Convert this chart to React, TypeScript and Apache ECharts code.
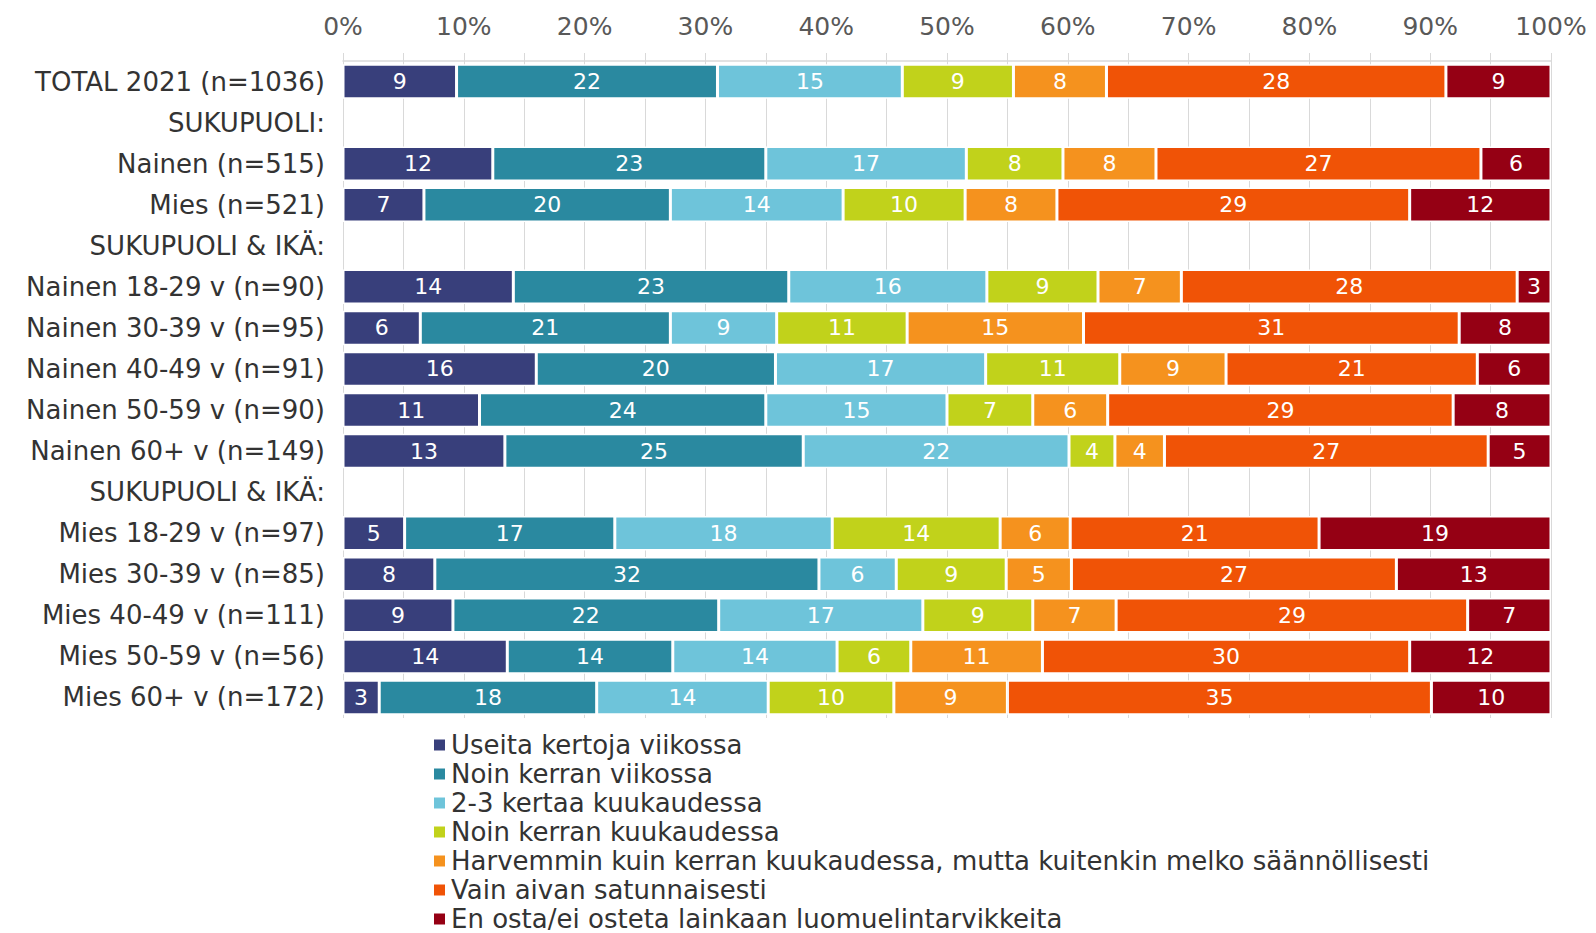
import React, { useEffect, useRef } from "react";
import * as echarts from "echarts";

const categories = [
  "TOTAL 2021 (n=1036)",
  "SUKUPUOLI:",
  "Nainen (n=515)",
  "Mies (n=521)",
  "SUKUPUOLI & IKÄ:",
  "Nainen 18-29 v (n=90)",
  "Nainen 30-39 v (n=95)",
  "Nainen 40-49 v (n=91)",
  "Nainen 50-59 v (n=90)",
  "Nainen 60+ v (n=149)",
  "SUKUPUOLI & IKÄ:",
  "Mies 18-29 v (n=97)",
  "Mies 30-39 v (n=85)",
  "Mies 40-49 v (n=111)",
  "Mies 50-59 v (n=56)",
  "Mies 60+ v (n=172)",
];

const seriesNames = [
  "Useita kertoja viikossa",
  "Noin kerran viikossa",
  "2-3 kertaa kuukaudessa",
  "Noin kerran kuukaudessa",
  "Harvemmin kuin kerran kuukaudessa, mutta kuitenkin melko säännöllisesti",
  "Vain aivan satunnaisesti",
  "En osta/ei osteta lainkaan luomuelintarvikkeita",
];

const colors = ["#383F7B", "#2A89A0", "#6EC4DA", "#C1D21B", "#F5921E", "#F05306", "#950014"];

const useita = [9.4, null, 12.4, 6.7, null, 14.1, 6.4, 16.0, 11.3, 13.4, null, 5.1, 7.6, 9.1, 13.6, 3.0];
const noinViikossa = [21.6, null, 22.6, 20.4, null, 22.8, 20.7, 19.8, 23.7, 24.7, null, 17.4, 31.8, 22.0, 13.7, 18.0];
const kertaa23 = [15.3, null, 16.6, 14.3, null, 16.4, 8.8, 17.4, 15.0, 22.0, null, 18.0, 6.4, 16.9, 13.6, 14.2];
const noinKuukaudessa = [9.2, null, 8.0, 10.1, null, 9.2, 10.8, 11.1, 7.1, 3.8, null, 13.9, 9.1, 9.1, 6.1, 10.4];
const harvemmin = [7.7, null, 7.7, 7.6, null, 6.9, 14.6, 8.8, 6.2, 4.1, null, 5.8, 5.4, 6.9, 10.9, 9.4];
const satunnaisesti = [28.1, null, 26.9, 29.2, null, 27.8, 31.1, 20.8, 28.6, 26.8, null, 20.6, 26.9, 29.1, 30.4, 35.1];
const enOsta = [8.7, null, 5.8, 11.7, null, 2.8, 7.6, 6.1, 8.1, 5.2, null, 19.2, 12.8, 6.9, 11.7, 9.9];

const seriesValues = [useita, noinViikossa, kertaa23, noinKuukaudessa, harvemmin, satunnaisesti, enOsta];

const FONT = "DejaVu Sans";

export default function App() {
  const ref = useRef<HTMLDivElement>(null);

  useEffect(() => {
    if (!ref.current) return;
    const chart = echarts.init(ref.current, null, { renderer: "svg" });
    const gridColor = "#D9D9D9";
    chart.setOption({
      animation: false,
      textStyle: { fontFamily: FONT },
      grid: { left: 343, right: 45, top: 61, height: 657, containLabel: false },
      xAxis: {
        type: "value",
        position: "top",
        min: 0,
        max: 100,
        interval: 10,
        axisLine: { show: true, lineStyle: { color: gridColor, width: 1.5 } },
        axisTick: { show: true, length: 8, lineStyle: { color: gridColor } },
        minorTick: { show: true, splitNumber: 2, length: 8, lineStyle: { color: gridColor } },
        splitLine: { show: true, lineStyle: { color: gridColor } },
        minorSplitLine: { show: true, lineStyle: { color: gridColor } },
        axisLabel: {
          formatter: "{value}%",
          color: "#595959",
          fontSize: 25,
          fontFamily: FONT,
          margin: 22,
        },
      },
      yAxis: {
        type: "category",
        inverse: true,
        data: categories,
        axisLine: { show: false },
        axisTick: { show: false },
        axisLabel: { color: "#333333", fontSize: 26, fontFamily: FONT, margin: 18 },
      },
      legend: {
        orient: "vertical",
        left: 432,
        top: 732,
        height: 205,
        padding: 0,
        itemWidth: 13,
        itemHeight: 13,
        itemGap: 3,
        icon: "rect",
        textStyle: { color: "#333333", fontSize: 26, lineHeight: 26, fontFamily: FONT },
        data: seriesNames,
      },
      series: seriesNames.map((name, i) => ({
        name,
        type: "bar",
        stack: "total",
        barWidth: "84%",
        data: seriesValues[i],
        itemStyle: { color: colors[i], borderColor: "#ffffff", borderWidth: 1.5 },
        label: {
          show: true,
          position: "inside",
          color: "#ffffff",
          fontSize: 22,
          fontFamily: FONT,
          formatter: (p: any) => (p.value == null ? "" : String(Math.round(p.value))),
        },
      })),
    });
    return () => chart.dispose();
  }, []);

  return (
    <div
      ref={ref}
      style={{ position: "fixed", left: 0, top: 0, width: 1596, height: 933, background: "#fff" }}
    />
  );
}
